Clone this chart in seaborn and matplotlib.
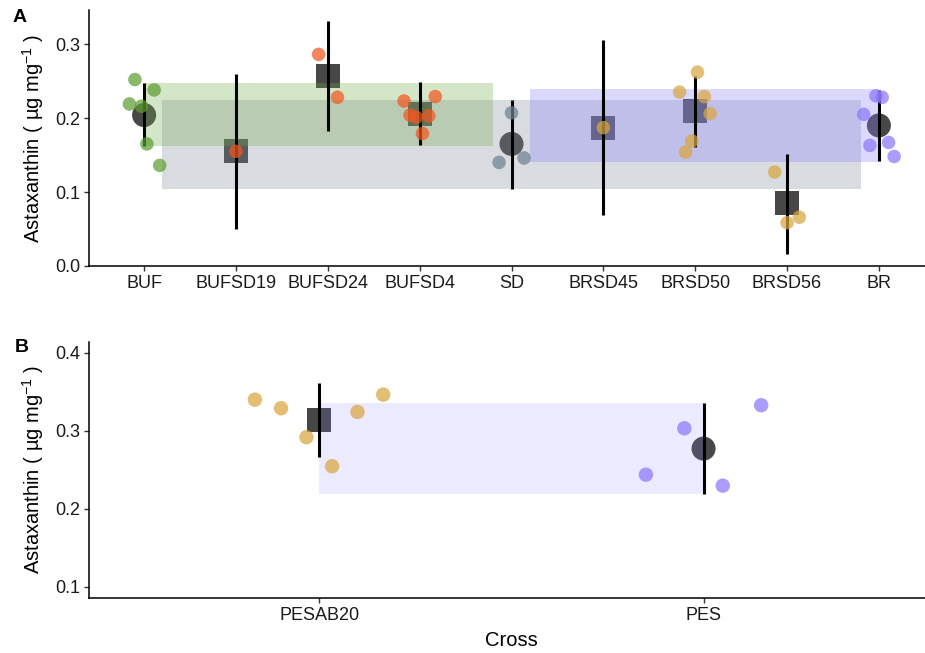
import numpy as np
import pandas as pd
import matplotlib
matplotlib.use("Agg")
import matplotlib.pyplot as plt
import seaborn as sns

# ---------------- data ----------------
groups_a = ["BUF", "BUFSD19", "BUFSD24", "BUFSD4", "SD", "BRSD45", "BRSD50", "BRSD56", "BR"]
shape_a = ["circle", "square", "square", "square", "circle", "square", "square", "square", "circle"]
colour_a = ["green", "orange", "orange", "orange", "grey", "gold", "gold", "gold", "purple"]
mean_a = [0.204, 0.155, 0.257, 0.206, 0.165, 0.187, 0.209, 0.085, 0.190]
lo_a = [0.162, 0.050, 0.183, 0.164, 0.1045, 0.069, 0.161, 0.016, 0.1415]
hi_a = [0.247, 0.259, 0.331, 0.249, 0.225, 0.306, 0.257, 0.152, 0.238]

buf = [0.252, 0.238, 0.219, 0.216, 0.165, 0.136]
bufsd19 = [0.155]
bufsd24 = [0.286, 0.228]
bufsd4 = [0.223, 0.229, 0.204, 0.201, 0.203, 0.179]
sd = [0.207, 0.140, 0.146]
brsd45 = [0.187]
brsd50 = [0.262, 0.235, 0.229, 0.206, 0.169, 0.154]
brsd56 = [0.127, 0.0585, 0.066]
br = [0.230, 0.228, 0.205, 0.163, 0.167, 0.148]
values_a = [buf, bufsd19, bufsd24, bufsd4, sd, brsd45, brsd50, brsd56, br]

# horizontal jitter of individual points (category units)
jit_a = [[-0.10, 0.11, -0.16, -0.03, 0.03, 0.17],
         [0.0],
         [-0.10, 0.105],
         [-0.17, 0.17, -0.105, -0.036, 0.10, 0.03],
         [0.0, -0.135, 0.137],
         [0.0],
         [0.025, -0.17, 0.10, 0.163, -0.037, -0.105],
         [-0.134, 0.0, 0.134],
         [-0.033, 0.036, -0.166, -0.098, 0.105, 0.166]]

# parental reference bands (mean +/- sd) in panel A
band_names_a = ["SD", "BUF", "BR"]
band_lo_a = [0.1045, 0.162, 0.141]
band_hi_a = [0.225, 0.247, 0.239]
band_x0_a = [0.2, 0.0, 4.2]
band_x1_a = [7.8, 3.8, 8.0]

groups_b = ["PESAB20", "PES"]
shape_b = ["square", "circle"]
colour_b = ["gold", "purple"]
mean_b = [0.314, 0.277]
lo_b = [0.2667, 0.2192]
hi_b = [0.3615, 0.3355]
pesab20 = [0.3397, 0.3287, 0.2915, 0.2544, 0.324, 0.3462]
pes = [0.3326, 0.303, 0.2436, 0.2295]
values_b = [pesab20, pes]
jit_b = [[-0.168, -0.10, -0.034, 0.033, 0.099, 0.166],
         [0.15, -0.05, -0.15, 0.05]]
band_lo_b = [0.2192]
band_hi_b = [0.3355]

palette = {"green": "#5e9e33", "orange": "#f2561f", "grey": "#6f8090",
           "gold": "#d9a640", "purple": "#8a78ff"}
band_colours = {"SD": ("#7f8c99", 0.30), "BUF": ("#73a94b", 0.30), "BR": ("#8a7fff", 0.30)}

# ---------------- style ----------------
sns.set_theme(style="ticks")
plt.rcParams["font.family"] = ["Liberation Sans", "DejaVu Sans"]
plt.rcParams["mathtext.default"] = "regular"
plt.rcParams["text.color"] = "black"
plt.rcParams["axes.linewidth"] = 1.1
plt.rcParams["xtick.major.width"] = 1.0
plt.rcParams["ytick.major.width"] = 1.0
plt.rcParams["xtick.major.size"] = 3.5
plt.rcParams["ytick.major.size"] = 3.5


def frames(groups, shapes, colours, means, los, his, values, jits):
    pts = []
    for i, (g, c, vals, js) in enumerate(zip(groups, colours, values, jits)):
        for v, j in zip(vals, js):
            pts.append({"group": g, "colour": c, "value": v, "pos": i + j})
    mdf = pd.DataFrame({"group": groups, "shape": shapes, "mean": means,
                        "lo": los, "hi": his, "pos": np.arange(len(groups))})
    return pd.DataFrame(pts), mdf


def draw(ax, pdf, mdf, pt_size, mean_size):
    sns.scatterplot(data=mdf, x="pos", y="mean", style="shape",
                    markers={"circle": "o", "square": "s"}, color="#333333",
                    s=mean_size, alpha=0.9, linewidth=0, legend=False, ax=ax, zorder=2)
    ax.vlines(mdf["pos"], mdf["lo"], mdf["hi"], color="black", lw=2.2, zorder=3)
    sns.scatterplot(data=pdf, x="pos", y="value", hue="colour", palette=palette,
                    s=pt_size, alpha=0.72, linewidth=0, legend=False, ax=ax, zorder=4)


fig = plt.figure(figsize=(9.25, 6.53), dpi=100)
W, H = 925, 653
axA = fig.add_axes([89 / W, (H - 266) / H, (934 - 89) / W, (266 - 10) / H])
axB = fig.add_axes([89 / W, (H - 597.7) / H, (934 - 89) / W, (597.7 - 341.7) / H])

# panel A
pdfA, mdfA = frames(groups_a, shape_a, colour_a, mean_a, lo_a, hi_a, values_a, jit_a)
draw(axA, pdfA, mdfA, 95, 300)
for name, lo, hi, x0, x1 in zip(band_names_a, band_lo_a, band_hi_a, band_x0_a, band_x1_a):
    col, al = band_colours[name]
    axA.fill_between([x0, x1], lo, hi, color=col, alpha=al, lw=0, zorder=2.5)
axA.set_xlim(-0.6, 8.6)
axA.set_ylim(0, 0.346)
axA.set_xticks(np.arange(len(groups_a)))
axA.set_xticklabels(groups_a)
axA.set_yticks([0.0, 0.1, 0.2, 0.3])
axA.set_yticklabels(["0.0", "0.1", "0.2", "0.3"])

# panel B
pdfB, mdfB = frames(groups_b, shape_b, colour_b, mean_b, lo_b, hi_b, values_b, jit_b)
draw(axB, pdfB, mdfB, 108, 300)
axB.fill_between([0, 1], band_lo_b[0], band_hi_b[0], color="#8a7fff", alpha=0.16, lw=0, zorder=2.5)
axB.set_xlim(-0.6, 1.6)
axB.set_ylim(0.0859, 0.414)
axB.set_xticks(np.arange(len(groups_b)))
axB.set_xticklabels(groups_b)
axB.set_yticks([0.1, 0.2, 0.3, 0.4])
axB.set_yticklabels(["0.1", "0.2", "0.3", "0.4"])

ylab = "Astaxanthin ( µg mg$^{-1}$ )"
for ax in (axA, axB):
    sns.despine(ax=ax)
    ax.spines["left"].set_color("black")
    ax.spines["bottom"].set_color("black")
    ax.tick_params(axis="both", labelsize=13, colors="#333333", labelcolor="#1a1a1a", pad=3)
    ax.set_ylabel(ylab, fontsize=14.5, color="black")
    ax.yaxis.set_label_coords(-0.051, 0.5)
    ax.set_xlabel("")

axB.set_xlabel("Cross", fontsize=14.5, color="black")
axB.xaxis.set_label_coords(0.5, -0.13)

fig.text(20 / W, 1 - 17 / H, "A", fontsize=14, fontweight="bold", color="black",
         ha="center", va="center")
fig.text(21.5 / W, 1 - 348 / H, "B", fontsize=14, fontweight="bold", color="black",
         ha="center", va="center")

fig.savefig("out.png", dpi=100)
